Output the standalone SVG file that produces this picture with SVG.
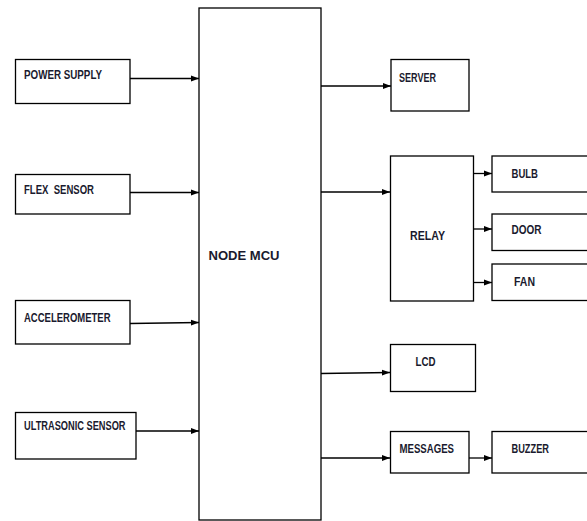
<svg xmlns="http://www.w3.org/2000/svg" width="587" height="521" viewBox="0 0 587 521">
<style>
.box{fill:#fff;stroke:#000;stroke-width:1.3}
.lbl{font-family:"Liberation Sans Narrow","Liberation Sans",Arial,sans-serif;font-weight:bold;fill:#1a1a2e;font-size:12px}
.con{stroke:#000;stroke-width:1.3;fill:none;marker-end:url(#ah)}
</style>
<defs>
<marker id="ah" viewBox="0 0 8 8" refX="8" refY="4" markerWidth="8" markerHeight="8" markerUnits="userSpaceOnUse" orient="auto">
<path d="M0,1 L8,4 L0,7 Z" fill="#000"/>
</marker>
</defs>
<rect width="587" height="521" fill="#fff"/>
<g id="connectors">
<line class="con" x1="130" y1="78.5" x2="199" y2="78.5"/>
<line class="con" x1="130" y1="192.5" x2="199" y2="192.5"/>
<line class="con" x1="130" y1="323.5" x2="199" y2="322.5"/>
<line class="con" x1="136" y1="431" x2="199" y2="431"/>
<line class="con" x1="321" y1="86" x2="391" y2="86"/>
<line class="con" x1="321" y1="192" x2="390" y2="192"/>
<line class="con" x1="321" y1="373.5" x2="390" y2="372.5"/>
<line class="con" x1="321" y1="458" x2="390" y2="458"/>
<line class="con" x1="473" y1="173.5" x2="492" y2="173.5"/>
<line class="con" x1="473" y1="229" x2="492" y2="229"/>
<line class="con" x1="473" y1="282.5" x2="492" y2="282.5"/>
<line class="con" x1="469" y1="458" x2="492" y2="458"/>
</g>
<g id="power-supply"><rect class="box" x="15.5" y="59.5" width="114.5" height="44"/><text class="lbl" x="24" y="79" textLength="78" lengthAdjust="spacingAndGlyphs">POWER SUPPLY</text></g>
<g id="flex-sensor"><rect class="box" x="15.5" y="174.5" width="114.5" height="39.5"/><text class="lbl" x="24" y="194" textLength="70" lengthAdjust="spacingAndGlyphs" xml:space="preserve">FLEX  SENSOR</text></g>
<g id="accelerometer"><rect class="box" x="15.5" y="300.5" width="114.5" height="43.5"/><text class="lbl" x="24" y="321.5" font-size="11" textLength="86.5" lengthAdjust="spacingAndGlyphs">ACCELEROMETER</text></g>
<g id="ultrasonic-sensor"><rect class="box" x="15.5" y="412.5" width="120.5" height="46.5"/><text class="lbl" x="24" y="429.5" font-size="9.5" textLength="101.5" lengthAdjust="spacingAndGlyphs">ULTRASONIC SENSOR</text></g>
<g id="node-mcu"><rect class="box" x="199" y="8" width="122" height="512"/><text class="lbl" x="208.5" y="260" font-size="16" textLength="71" lengthAdjust="spacingAndGlyphs">NODE MCU</text></g>
<g id="server"><rect class="box" x="391" y="59.5" width="78" height="51.5"/><text class="lbl" x="399" y="81.5" font-size="13" textLength="37" lengthAdjust="spacingAndGlyphs">SERVER</text></g>
<g id="relay"><rect class="box" x="390.5" y="156" width="83" height="145"/><text class="lbl" x="410" y="239.5" font-size="15" textLength="35" lengthAdjust="spacingAndGlyphs">RELAY</text></g>
<g id="bulb"><rect class="box" x="492" y="156" width="97" height="36"/><text class="lbl" x="511.5" y="178" font-size="14" textLength="26.5" lengthAdjust="spacingAndGlyphs">BULB</text></g>
<g id="door"><rect class="box" x="492" y="214" width="97" height="36.5"/><text class="lbl" x="511.5" y="234" font-size="14" textLength="30" lengthAdjust="spacingAndGlyphs">DOOR</text></g>
<g id="fan"><rect class="box" x="492" y="264" width="97" height="36.5"/><text class="lbl" x="514" y="285.5" font-size="14" textLength="21" lengthAdjust="spacingAndGlyphs">FAN</text></g>
<g id="lcd"><rect class="box" x="390.5" y="344.5" width="85" height="47"/><text class="lbl" x="415.5" y="366" font-size="14" textLength="20" lengthAdjust="spacingAndGlyphs">LCD</text></g>
<g id="messages"><rect class="box" x="390.5" y="431.5" width="78.5" height="41.5"/><text class="lbl" x="399.5" y="452.5" font-size="13" textLength="54.5" lengthAdjust="spacingAndGlyphs">MESSAGES</text></g>
<g id="buzzer"><rect class="box" x="492" y="431.5" width="97" height="41.5"/><text class="lbl" x="511.5" y="452.5" font-size="14" textLength="37.5" lengthAdjust="spacingAndGlyphs">BUZZER</text></g>
</svg>
